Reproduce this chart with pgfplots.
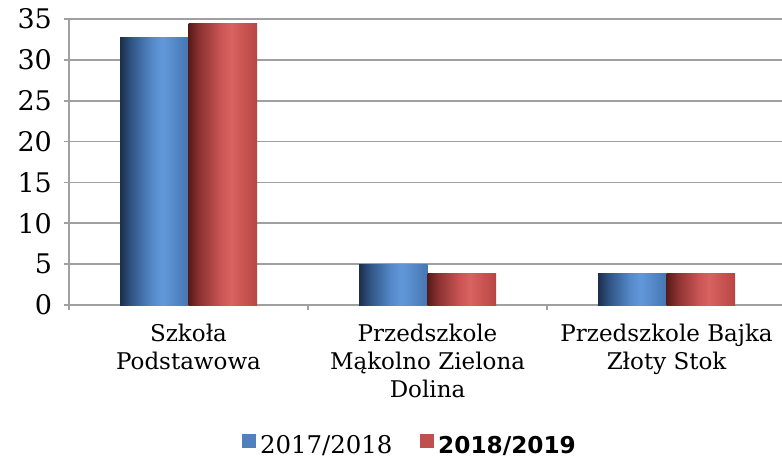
\documentclass[border=0pt]{standalone}
\usepackage{fontspec}
\setmainfont{DejaVu Serif}
\newfontfamily\legfont{DejaVu Sans}
\usepackage{pgfplots}
\pgfplotsset{compat=1.18}
\usetikzlibrary{calc}
\definecolor{gridc}{RGB}{160,160,160}
\definecolor{bA}{RGB}{28,46,74}
\definecolor{bB}{RGB}{48,84,132}
\definecolor{bC}{RGB}{84,136,200}
\definecolor{bD}{RGB}{98,152,218}
\definecolor{bE}{RGB}{70,118,178}
\definecolor{rA}{RGB}{88,26,26}
\definecolor{rB}{RGB}{140,50,50}
\definecolor{rC}{RGB}{200,84,84}
\definecolor{rD}{RGB}{218,98,96}
\definecolor{rE}{RGB}{182,70,68}
\definecolor{legblue}{RGB}{79,129,189}
\definecolor{legred}{RGB}{192,80,77}
\pgfdeclarehorizontalshading{bluebar}{100bp}{color(0bp)=(bA); color(25bp)=(bA); color(33bp)=(bB); color(48bp)=(bC); color(56bp)=(bD); color(75bp)=(bE); color(100bp)=(bE)}
\pgfdeclarehorizontalshading{redbar}{100bp}{color(0bp)=(rA); color(25bp)=(rA); color(33bp)=(rB); color(48bp)=(rC); color(56bp)=(rD); color(75bp)=(rE); color(100bp)=(rE)}
\pgfplotsset{
  bluestyle/.style={draw=none, shade, shading=bluebar, bar shift=-17.125pt, forget plot},
  redstyle/.style={draw=none, shade, shading=redbar, bar shift=17.125pt, forget plot},
}
\begin{document}
\begin{tikzpicture}
\begin{axis}[
  name=ax,
  scale only axis,
  width=356.5pt, height=143pt,
  xmin=-0.5, xmax=2.483,
  ymin=0, ymax=35,
  ytick={0,5,...,35},
  xtick={0,1,2},
  xticklabels={{Szkoła\\Podstawowa},{Przedszkole\\Mąkolno Zielona\\Dolina},{Przedszkole Bajka\\Złoty Stok}},
  xticklabel style={align=center, font=\fontsize{11.5}{14}\selectfont, yshift=-3.5pt},
  yticklabel style={font=\fontsize{13.5}{15}\selectfont, xshift=-2.5pt},
  /pgf/number format/assume math mode=true,
  major x tick style={draw=none},
  extra x ticks={-0.5,0.5,1.5},
  extra x tick labels={},
  extra x tick style={major tick length=2.5pt, tick align=outside, xmajorgrids=false, major x tick style={draw=gridc, line width=0.8pt}},
  ymajorgrids=true,
  grid style={draw=gridc, line width=0.9pt},
  axis lines*=left,
  axis line style={draw=gridc, line width=0.9pt},
  ytick style={draw=gridc, line width=0.8pt},
  tick align=outside,
  major tick length=2.5pt,
  ybar, bar width=34.25pt,
  legend columns=2,
  legend style={at={(0.4797,-0.493)}, anchor=center, draw=none, fill=none,
    font=\fontsize{12.2}{14}\selectfont,
    /tikz/every even column/.append style={column sep=12pt}},
]
\addplot[bluestyle] coordinates {(0,32.7)};
\addplot[bluestyle] coordinates {(1,5)};
\addplot[bluestyle] coordinates {(2,3.9)};
\addplot[redstyle] coordinates {(0,34.5)};
\addplot[redstyle] coordinates {(1,3.9)};
\addplot[redstyle] coordinates {(2,3.9)};
\addlegendimage{legend image code/.code={\fill[legblue] (0pt,-0.5pt) rectangle (6.5pt,6pt);}}
\addlegendentry{2017/2018}
\addlegendimage{legend image code/.code={\fill[legred] (0pt,-0.5pt) rectangle (6.5pt,6pt);}}
\addlegendentry{{\legfont\fontsize{11.6}{14}\selectfont\bfseries 2018/2019}}
\end{axis}
\pgfresetboundingbox
\path[use as bounding box] ($(ax.south west)+(-34.5pt,-78pt)$) rectangle ($(ax.north east)+(0pt,9.5pt)$);
\end{tikzpicture}
\end{document}
